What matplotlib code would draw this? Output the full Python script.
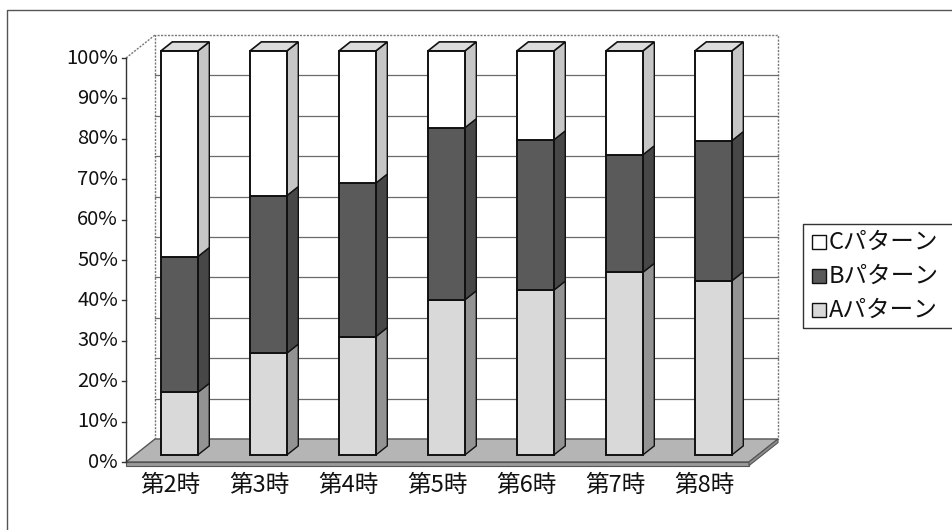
import matplotlib
matplotlib.use("Agg")
import matplotlib.pyplot as plt
from matplotlib.patches import Polygon, Rectangle
import numpy as np

plt.rcParams['font.family'] = ['Noto Sans CJK JP', 'DejaVu Sans']

# --- data -------------------------------------------------------------
categories = ['第2時', '第3時', '第4時', '第5時', '第6時', '第7時', '第8時']
pattern_a = [15.5, 25.2, 29.3, 38.4, 40.8, 45.2, 43.1]
pattern_b = [33.6, 39.0, 38.0, 42.6, 37.2, 29.1, 34.7]
pattern_c = [50.9, 35.8, 32.7, 19.0, 22.0, 25.7, 22.2]
series_names = ['Aパターン', 'Bパターン', 'Cパターン']
y_ticks = [0, 10, 20, 30, 40, 50, 60, 70, 80, 90, 100]
y_tick_labels = [f'{t}%' for t in y_ticks]

# --- styling ----------------------------------------------------------
W, H = 952, 530
fig = plt.figure(figsize=(W / 100, H / 100), dpi=100)
fig.patch.set_facecolor('white')

# front plane of the plot box, in pixels
X0, X1 = 126, 749
Y0, Y1 = 462, 58
ax = fig.add_axes([X0 / W, 1 - Y0 / H, (X1 - X0) / W, (Y0 - Y1) / H])
n = len(categories)
ax.set_xlim(-0.5, n - 0.5)
ax.set_ylim(0, 100)
ax.axis('off')

px_per_cat = (X1 - X0) / n
px_per_pct = (Y0 - Y1) / 100
DX = 29 / px_per_cat      # depth offset (category units)
DY = 23 / px_per_pct      # depth offset (percent units)
D0, D1 = 0.3, 0.7         # bar front / back depth fractions
BW = 37 / px_per_cat      # bar width

front_cols = {'A': '#d9d9d9', 'B': '#5a5a5a', 'C': '#ffffff'}
side_cols = {'A': '#939393', 'B': '#474747', 'C': '#c6c6c6'}
top_col = '#dcdcdc'
edge = '#111111'

def poly(pts, fc, ec=edge, lw=1.3, z=3, ls='-'):
    ax.add_patch(Polygon(pts, closed=True, facecolor=fc, edgecolor=ec,
                         linewidth=lw, linestyle=ls, zorder=z, clip_on=False,
                         joinstyle='miter'))

xl, xr = -0.5, n - 0.5

# floor
poly([(xl, 0), (xr, 0), (xr + DX, DY), (xl + DX, DY)], '#b5b5b5',
     ec='#555555', lw=1.0, z=1)
# floor front lip
poly([(xl, 0), (xr, 0), (xr, -0.9), (xl, -0.9)], '#9a9a9a',
     ec='#555555', lw=0.8, z=1)
poly([(xr, 0), (xr + DX, DY), (xr + DX, DY - 0.9), (xr, -0.9)], '#8c8c8c',
     ec='#555555', lw=0.8, z=1)

# back wall and side wall
poly([(xl + DX, DY), (xr + DX, DY), (xr + DX, 100 + DY), (xl + DX, 100 + DY)],
     'white', ec='#777777', lw=1.0, z=0.5, ls=(0, (1.5, 1)))
ax.plot([xl, xl + DX], [100, 100 + DY], color='#777777', lw=1.0,
        ls=(0, (1.5, 1)), clip_on=False, zorder=0.6)

# gridlines on the back wall
for t in y_ticks[1:-1]:
    ax.plot([xl + DX, xr + DX], [t + DY, t + DY], color='#6a6a6a', lw=0.9,
            clip_on=False, zorder=0.7)

# value axis with ticks and labels
ax.plot([xl, xl], [0, 100], color='#333333', lw=1.0, clip_on=False, zorder=2)
tick_len = 4 / px_per_cat
for t, lab in zip(y_ticks, y_tick_labels):
    ax.plot([xl - tick_len, xl], [t, t], color='#333333', lw=1.0,
            clip_on=False, zorder=2)
    ax.text(xl - 8 / px_per_cat, t, lab, ha='right', va='center',
            fontsize=14.5, color='#111111')

# stacked 3-D columns
a = np.array(pattern_a, float)
b = np.array(pattern_b, float)
c = np.array(pattern_c, float)
tot = a + b + c
a, b, c = a / tot * 100, b / tot * 100, c / tot * 100

for i in range(n):
    segs = [('A', 0, a[i]), ('B', a[i], a[i] + b[i]),
            ('C', a[i] + b[i], 100)]
    bl = i - BW / 2
    br = i + BW / 2
    fx0, fy0 = D0 * DX, D0 * DY
    bx0, by0 = D1 * DX, D1 * DY
    for key, lo, hi in segs:
        # side face
        poly([(br + fx0, lo + fy0), (br + bx0, lo + by0),
              (br + bx0, hi + by0), (br + fx0, hi + fy0)],
             side_cols[key], lw=1.0, z=3)
        # front face
        poly([(bl + fx0, lo + fy0), (br + fx0, lo + fy0),
              (br + fx0, hi + fy0), (bl + fx0, hi + fy0)],
             front_cols[key], lw=1.4, z=4)
    # top face
    poly([(bl + fx0, 100 + fy0), (br + fx0, 100 + fy0),
          (br + bx0, 100 + by0), (bl + bx0, 100 + by0)], top_col, lw=1.2, z=3)
    ax.text(i, -23 / px_per_pct, categories[i], ha='center', va='center',
            fontsize=17, color='#111111')

# legend
def fx(x):
    return x / W

def fy(y):
    return 1 - y / H

fig.add_artist(plt.Line2D([fx(952), fx(803), fx(803), fx(952)],
                          [fy(224), fy(224), fy(328), fy(328)],
                          color='#333333', lw=1.0, transform=fig.transFigure))
legend_items = [('C', series_names[2]), ('B', series_names[1]), ('A', series_names[0])]
for k, (key, name) in enumerate(legend_items):
    yc = 242 + k * 34
    fig.add_artist(Rectangle((fx(812), fy(yc + 7)), 14 / W, 14 / H,
                             facecolor=front_cols[key], edgecolor='#111111',
                             lw=1.0, transform=fig.transFigure))
    fig.text(fx(829), fy(yc), name, ha='left', va='center', fontsize=17,
             color='#111111')

# chart area border (top and left edges)
fig.add_artist(plt.Line2D([fx(7), fx(7), fx(952)], [fy(530), fy(10), fy(10)],
                          color='#555555', lw=1.0, transform=fig.transFigure))

fig.savefig('out.png', dpi=100, facecolor='white')
